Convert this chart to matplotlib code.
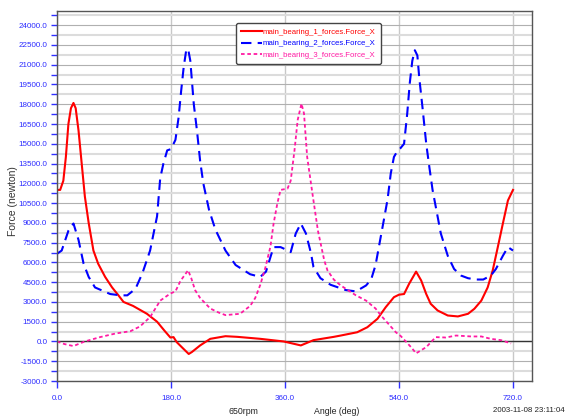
import numpy as np
import matplotlib.pyplot as plt
from matplotlib.ticker import MultipleLocator, FormatStrFormatter

plt.rcParams['font.family'] = ['Liberation Sans', 'DejaVu Sans']

# angle (deg) / force (newton)
b1_ang = [0, 5, 10, 14, 18, 22, 26, 29.5, 34, 39, 44, 50, 57.5, 65, 76, 87, 97, 105,
          120, 142, 158, 170, 179, 184, 189, 197, 208, 213, 226, 242, 266, 285, 321,
          358, 385, 405, 437, 448, 474, 490, 506, 519, 532, 540, 548, 556, 567, 575,
          583, 590, 601, 617, 633, 649, 659, 670, 680, 688, 696, 704, 712, 720]
b1_val = [11500, 11500, 12200, 14000, 16500, 17700, 18100, 17700, 16000, 13500,
          11000, 9000, 6900, 5900, 4900, 4100, 3500, 3000, 2700, 2100, 1500, 800,
          300, 330, -50, -430, -950, -800, -300, 200, 400, 350, 200, 0, -300, 100,
          350, 450, 700, 1080, 1720, 2600, 3360, 3550, 3600, 4380, 5300, 4630, 3600,
          2860, 2350, 1970, 1900, 2100, 2480, 3100, 4100, 5400, 7160, 8950, 10700,
          11500]

b2_ang = [0, 7.4, 18, 26, 34, 42, 50, 60, 84, 100, 111, 124, 135, 147, 158, 163, 168,
          174, 180, 187, 192, 196, 200, 204, 207, 210.5, 213, 216, 221, 226, 231, 240,
          250, 266, 282, 305, 321, 330, 337, 342, 353, 358, 369, 377, 385, 393, 401,
          405, 416, 432, 456, 472, 488, 496, 503, 511, 516, 522, 527, 532, 538, 542,
          548, 553, 557, 561, 565, 569, 572, 577, 583, 588, 593, 606, 617, 627, 638,
          649, 662, 673, 685, 693, 704, 712, 720]
b2_val = [6650, 6900, 8400, 8950, 7700, 5900, 4900, 4100, 3600, 3500, 3500, 4000,
          5200, 6900, 9500, 12400, 13500, 14500, 14600, 15300, 17000, 19000, 20800,
          22100, 22200, 21300, 19800, 18000, 16000, 13700, 12000, 10000, 8500, 6900,
          5800, 5100, 4900, 5300, 6400, 7160, 7160, 7050, 6780, 8200, 8950, 8200,
          6700, 5640, 4800, 4300, 3900, 3800, 4250, 4700, 5800, 7900, 9200, 10800,
          12750, 14000, 14500, 14650, 15000, 17300, 19600, 21300, 22100, 21700, 20000,
          17800, 15000, 13200, 11500, 8200, 6500, 5500, 5000, 4800, 4700, 4700, 5000,
          5500, 6500, 7160, 6900]

b3_ang = [0, 12, 26, 36, 44, 68, 92, 116, 131, 147, 163, 179, 187, 195, 207, 212, 218,
          226, 242, 255, 266, 289, 305, 313, 321, 329, 337, 342, 348, 353, 364, 369,
          375, 380, 386, 390, 395, 404, 412, 422, 427, 437, 448, 472, 488, 503, 511,
          535, 543, 559, 567, 583, 598, 614, 630, 654, 670, 685, 701, 717]
b3_val = [0, -200, -350, -150, 0, 330, 600, 780, 1140, 1850, 3100, 3640, 3800, 4600,
          5400, 4800, 3900, 3300, 2500, 2200, 2000, 2100, 2700, 3300, 4300, 5600,
          7200, 8950, 10500, 11500, 11600, 12200, 14500, 16800, 18050, 17300, 14000,
          11000, 8400, 6150, 5400, 4700, 4250, 3500, 3100, 2500, 2000, 700, 400, -430,
          -900, -430, 330, 300, 450, 380, 380, 200, 100, -150]

labels = ['main_bearing_1_forces.Force_X', 'main_bearing_2_forces.Force_X',
          'main_bearing_3_forces.Force_X']

fig = plt.figure(figsize=(5.66, 4.17), dpi=100)
ax = fig.add_axes([57 / 566, 1 - 381 / 417, (532 - 57) / 566, (381 - 10.7) / 417])

ax.plot(b1_ang, b1_val, color='#ff0000', lw=1.5, label=labels[0])
ax.plot(b2_ang, b2_val, color='#0000ff', lw=1.5, dashes=(5, 3), label=labels[1])
ax.plot(b3_ang, b3_val, color='#ff1aa3', lw=1.3, dashes=(2, 1.5), label=labels[2])
ax.axhline(0, color='#333333', lw=1.0, zorder=1.5)

ax.set_xlim(0, 750)
ax.set_ylim(-3000, 25100)
ax.xaxis.set_major_locator(MultipleLocator(180))
ax.yaxis.set_major_locator(MultipleLocator(1500))
ax.yaxis.set_minor_locator(MultipleLocator(750))
ax.xaxis.set_major_formatter(FormatStrFormatter('%.1f'))
ax.yaxis.set_major_formatter(FormatStrFormatter('%.1f'))

ax.grid(True, which='major', axis='y', color='#b0b0b0', lw=0.8)
ax.grid(True, which='minor', axis='y', color='#dcdcdc', lw=1.5)
ax.grid(True, which='major', axis='x', color='#c8c8c8', lw=1.0)
ax.set_axisbelow(True)

ax.tick_params(axis='both', which='both', direction='out', colors='#2b2bff',
               labelsize=5.8, width=1.0)
ax.tick_params(axis='y', which='major', length=4, pad=3)
ax.tick_params(axis='y', which='minor', length=4)
ax.tick_params(axis='x', length=5, pad=5)
ax.tick_params(axis='both', which='both', color='#3030ff')
for s in ax.spines.values():
    s.set_color('#555555')
    s.set_linewidth(1.0)

fig.text(13 / 566, 1 - 201 / 417, 'Force (newton)', rotation=90, ha='center',
         va='center', fontsize=7.5, color='#333333')
fig.text(243 / 566, 1 - 411 / 417, '650rpm', ha='center', va='center',
         fontsize=6.3, color='#222222')
fig.text(337 / 566, 1 - 411 / 417, 'Angle (deg)', ha='center', va='center',
         fontsize=6.3, color='#222222')
fig.text(565 / 566, 1 - 411 / 417, '2003-11-08 23:11:04', ha='right', va='center',
         fontsize=5.7, color='#222222')

leg = ax.legend(loc='upper left', bbox_to_anchor=(236 / 566, 1 - 23 / 417),
                bbox_transform=fig.transFigure, fontsize=5.6, labelcolor='linecolor',
                handlelength=2.7, handletextpad=0.1, borderpad=0.65, labelspacing=0.55,
                borderaxespad=0, fancybox=True, framealpha=1, edgecolor='#444444')
leg.get_frame().set_linewidth(1.0)

fig.savefig('out.png', dpi=100)
